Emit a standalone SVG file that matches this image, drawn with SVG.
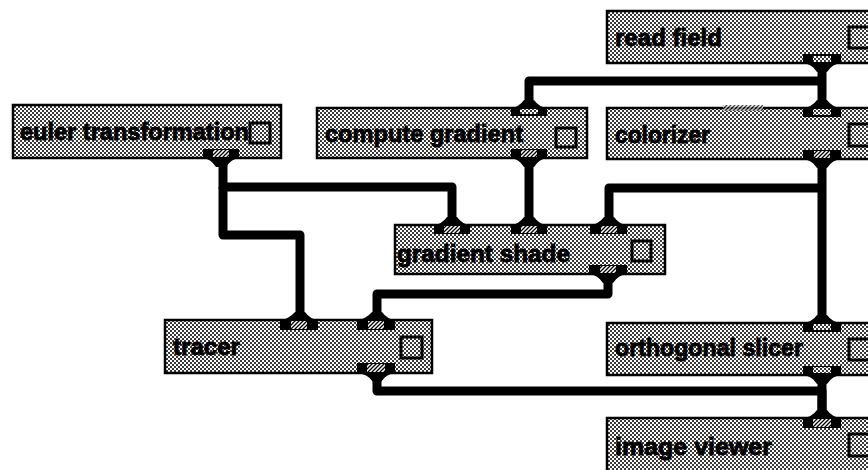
<svg xmlns="http://www.w3.org/2000/svg" width="868" height="470" viewBox="0 0 868 470">
<defs>
<pattern id="dots" width="4" height="4" patternUnits="userSpaceOnUse"><rect width="4" height="4" fill="#fff"/><rect width="2" height="2" fill="#3a3a3a"/><rect x="2" y="2" width="2" height="2" fill="#3a3a3a"/></pattern>
<pattern id="hatch" width="4" height="4" patternUnits="userSpaceOnUse"><rect width="4" height="4" fill="#fff"/><path d="M-1 1 L1 -1 M0 4 L4 0 M3 5 L5 3" stroke="#000" stroke-width="1.3"/></pattern>
<clipPath id="clipEuler"><rect x="13" y="105" width="235" height="53"/></clipPath>
</defs>
<style>
.box{fill:url(#dots);stroke:#000;stroke-width:2.5}
.chk{fill:url(#dots);stroke:#000;stroke-width:3}
.lbl{font-family:"Liberation Sans",Arial,sans-serif;font-weight:bold;font-size:23.5px;fill:#000;stroke:#000;stroke-width:0.8}
.port{fill:#000}
.ph{fill:url(#hatch)}
.pd{fill:url(#dots)}
.wire{fill:none;stroke:#000;stroke-width:9;stroke-linejoin:round;stroke-linecap:butt}
</style>
<rect width="868" height="470" fill="#fff"/>
<g id="connectors">
<path class="wire" d="M822 63 V108"/>
<path class="wire" d="M822 81 H529 V108"/>
<path class="wire" d="M822 159 V323"/>
<path class="wire" d="M822 188 H609 V225"/>
<path class="wire" d="M223 158 V187 H452 V225"/>
<path class="wire" d="M223 187 V235 H300 V320"/>
<path class="wire" d="M529 158 V225"/>
<path class="wire" d="M608 274 V294 H377 V320"/>
<path class="wire" d="M377 373 V391 H822 V418"/>
<path class="wire" d="M822 375 V418"/>
</g>
<g id="read-field">
<rect class="box" x="607" y="11" width="270" height="52"/>
<text class="lbl" x="615" y="46" textLength="107" lengthAdjust="spacingAndGlyphs">read field</text>
<rect class="chk" x="849" y="27" width="22" height="21"/>
<path class="port" d="M803 54 H841 V63 Q832 64 827 72 H817 Q812 64 803 63 Z"/>
<rect class="pd" x="813" y="56" width="18" height="6"/>
</g>
<g id="colorizer">
<rect class="box" x="607" y="108" width="270" height="51"/>
<rect class="ph" x="723" y="105" width="40" height="6" opacity="0.7"/>
<text class="lbl" x="615" y="143" textLength="95" lengthAdjust="spacingAndGlyphs">colorizer</text>
<rect class="chk" x="849" y="124" width="22" height="22"/>
<path class="port" d="M817 100 H827 Q832 107 841 108 V117 H803 V108 Q812 107 817 100 Z"/>
<rect class="pd" x="813" y="109" width="18" height="6"/>
<path class="port" d="M803 150 H841 V159 Q832 160 827 168 H817 Q812 160 803 159 Z"/>
<rect class="ph" x="814" y="151" width="16" height="7"/>
</g>
<g id="euler-transformation">
<rect class="box" x="13" y="105" width="268" height="53"/>
<text class="lbl" x="20" y="140" textLength="229" lengthAdjust="spacingAndGlyphs" clip-path="url(#clipEuler)">euler transformation</text>
<rect class="chk" x="250" y="123" width="20" height="20"/>
<path class="port" d="M203 149 H239 V158 Q231 159 226 167 H216 Q211 159 203 158 Z"/>
<rect class="ph" x="213" y="150" width="16" height="7"/>
</g>
<g id="compute-gradient">
<rect class="box" x="317" y="108" width="270" height="50"/>
<text class="lbl" x="325" y="142" textLength="198" lengthAdjust="spacingAndGlyphs">compute gradient</text>
<rect class="chk" x="556" y="128" width="20" height="19"/>
<path class="port" d="M524 100 H534 Q539 107 547 108 V116 H511 V108 Q519 107 524 100 Z"/>
<rect class="pd" x="520" y="109" width="18" height="5"/>
<path class="port" d="M511 149 H547 V158 Q539 159 534 167 H524 Q519 159 511 158 Z"/>
<rect class="ph" x="521" y="150" width="16" height="7"/>
</g>
<g id="gradient-shade">
<rect class="box" x="395" y="225" width="270" height="49"/>
<text class="lbl" x="397" y="262" textLength="173" lengthAdjust="spacingAndGlyphs">gradient shade</text>
<rect class="chk" x="632" y="241" width="19" height="20"/>
<path class="port" d="M447 217 H457 Q462 224 470 225 V234 H434 V225 Q442 224 447 217 Z"/>
<rect class="ph" x="444" y="226" width="16" height="7"/>
<path class="port" d="M524 217 H534 Q539 224 547 225 V234 H511 V225 Q519 224 524 217 Z"/>
<rect class="ph" x="521" y="226" width="16" height="7"/>
<path class="port" d="M604 217 H614 Q619 224 627 225 V234 H590 V225 Q599 224 604 217 Z"/>
<rect class="ph" x="601" y="226" width="16" height="7"/>
<path class="port" d="M589 265 H627 V274 Q618 275 613 283 H603 Q598 275 589 274 Z"/>
<rect class="ph" x="600" y="266" width="16" height="7"/>
</g>
<g id="tracer">
<rect class="box" x="165" y="320" width="267" height="53"/>
<text class="lbl" x="173" y="355" textLength="67" lengthAdjust="spacingAndGlyphs">tracer</text>
<rect class="chk" x="401" y="337" width="21" height="21"/>
<path class="port" d="M295 312 H305 Q310 319 318 320 V330 H280 V320 Q289 319 295 312 Z"/>
<rect class="ph" x="291" y="321" width="16" height="8"/>
<path class="port" d="M372 312 H382 Q387 319 395 320 V330 H357 V320 Q366 319 372 312 Z"/>
<rect class="ph" x="368" y="321" width="16" height="8"/>
<path class="port" d="M357 363 H395 V373 Q386 374 381 382 H373 Q368 374 357 373 Z"/>
<rect class="ph" x="367" y="364" width="18" height="8"/>
</g>
<g id="orthogonal-slicer">
<rect class="box" x="607" y="323" width="270" height="52"/>
<text class="lbl" x="615" y="356" textLength="188" lengthAdjust="spacingAndGlyphs">orthogonal slicer</text>
<rect class="chk" x="849" y="339" width="22" height="21"/>
<path class="port" d="M817 315 H827 Q832 322 841 323 V332 H803 V323 Q812 322 817 315 Z"/>
<rect class="pd" x="813" y="324" width="18" height="6"/>
<path class="port" d="M803 366 H841 V375 Q832 376 827 384 H817 Q812 376 803 375 Z"/>
<rect class="pd" x="813" y="367" width="18" height="6"/>
</g>
<g id="image-viewer">
<rect class="box" x="607" y="418" width="270" height="60"/>
<text class="lbl" x="615" y="455" textLength="157" lengthAdjust="spacingAndGlyphs">image viewer</text>
<rect class="chk" x="849" y="434" width="22" height="22"/>
<path class="port" d="M817 410 H827 Q832 417 841 418 V428 H803 V418 Q812 417 817 410 Z"/>
<rect class="ph" x="813" y="419" width="18" height="8"/>
</g>
</svg>
